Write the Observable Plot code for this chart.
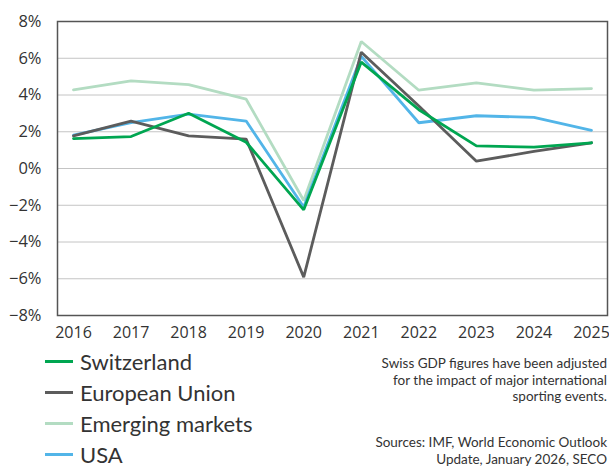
<!DOCTYPE html>
<html>
<head>
<meta charset="utf-8">
<script src="https://cdn.jsdelivr.net/npm/d3@7"></script>
<script src="https://cdn.jsdelivr.net/npm/@observablehq/plot@0.6"></script>
<style>
  html, body { margin: 0; padding: 0; background: #fff; }
  #wrap { position: relative; width: 609px; height: 468px; overflow: hidden; font-family: Lato, sans-serif; color: #333; }
  #chart { position: absolute; left: 0; top: 0; }
  .legend { position: absolute; left: 45px; top: 346px; }
  .legend .item { display: flex; align-items: center; height: 31px; font-size: 22px; line-height: 27px; }
  .legend .sw { width: 28px; height: 3px; margin-right: 7px; }
  .note { position: absolute; right: 2px; text-align: right; font-size: 13.5px; line-height: 16.5px; white-space: nowrap; }
</style>
</head>
<body>
<div id="wrap">
  <div id="chart"></div>
  <div class="legend" id="legend"></div>
  <div class="note" style="top:355px">Swiss GDP figures have been adjusted<br>for the impact of major international<br>sporting events.</div>
  <div class="note" style="top:434px">Sources: IMF, World Economic Outlook<br>Update, January 2026, SECO</div>
</div>
<script>
const years = [2016, 2017, 2018, 2019, 2020, 2021, 2022, 2023, 2024, 2025];
const seriesNames = ["Switzerland", "European Union", "Emerging markets", "USA"];
const seriesColors = ["#00a651", "#5c5c5c", "#b3dcc2", "#52b5e8"];
const switzerland = [1.63, 1.74, 3.01, 1.43, -2.25, 5.79, 3.2, 1.23, 1.16, 1.40];
const europeanUnion = [1.78, 2.58, 1.78, 1.60, -5.91, 6.33, 3.4, 0.40, 0.93, 1.40];
const emergingMarkets = [4.28, 4.77, 4.57, 3.77, -1.74, 6.91, 4.26, 4.66, 4.26, 4.35];
const usa = [1.81, 2.50, 2.96, 2.58, -2.10, 6.10, 2.49, 2.87, 2.78, 2.08];
const yTicks = [-8, -6, -4, -2, 0, 2, 4, 6, 8];

const seriesValues = [switzerland, europeanUnion, emergingMarkets, usa];
const drawOrder = [2, 3, 1, 0];
const rows = [];
for (const i of drawOrder) {
  years.forEach((y, j) => rows.push({series: seriesNames[i], year: y, value: seriesValues[i][j]}));
}

const chart = Plot.plot({
  width: 609,
  height: 342,
  marginLeft: 57,
  marginRight: 2,
  marginTop: 21,
  marginBottom: 27,
  style: {fontFamily: "Open Sans, sans-serif", fontSize: "16px", color: "#333", background: "#fff"},
  x: {domain: [2016, 2025], insetLeft: 16, insetRight: 16, label: null},
  y: {domain: [-8, 8], label: null},
  color: {domain: seriesNames, range: seriesColors},
  marks: [
    Plot.ruleY(yTicks.filter(d => d > -8 && d < 8), {stroke: "#c4c4c4", strokeWidth: 1}),
    Plot.line(rows, {x: "year", y: "value", z: "series", stroke: "series", strokeWidth: 2.8, strokeLinejoin: "miter"}),
    Plot.frame({stroke: "#555", strokeWidth: 1.5}),
    Plot.axisY(yTicks, {tickSize: 0, tickPadding: 16, tickFormat: d => (d < 0 ? "\u2212" + Math.abs(d) : d) + "%", fontSize: 16.5, fill: "#333"}),
    Plot.axisX(years, {tickSize: 0, tickPadding: 11, tickFormat: d => String(d), fontSize: 16, fill: "#333"})
  ]
});
document.getElementById("chart").appendChild(chart);

const leg = document.getElementById("legend");
seriesNames.forEach((name, i) => {
  const it = document.createElement("div");
  it.className = "item";
  const sw = document.createElement("span");
  sw.className = "sw";
  sw.style.background = seriesColors[i];
  const tx = document.createElement("span");
  tx.textContent = name;
  it.appendChild(sw);
  it.appendChild(tx);
  leg.appendChild(it);
});
</script>
</body>
</html>
